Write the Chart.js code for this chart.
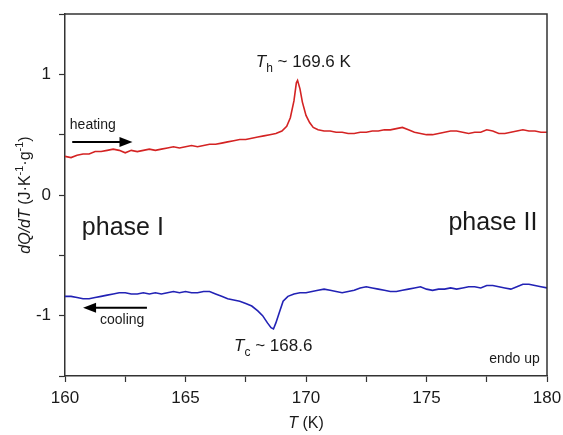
<!DOCTYPE html>
<html>
<head>
<meta charset="utf-8">
<script src="https://cdn.jsdelivr.net/npm/chart.js@4.4.1/dist/chart.umd.min.js"></script>
<style>
  html, body { margin: 0; padding: 0; background: #fff; }
  #wrap { width: 563px; height: 435px; }
</style>
</head>
<body>
<div id="wrap"><canvas id="dscChart" width="563" height="435"></canvas></div>
<script>
// --- Data ---
// heating run (red), T in K, dQ/dT in J K^-1 g^-1
const heatT = [160.0, 160.25, 160.5, 160.75, 161.0, 161.25, 161.5, 161.75, 162.0, 162.25, 162.5, 162.75,
  163.0, 163.25, 163.5, 163.75, 164.0, 164.25, 164.5, 164.75, 165.0, 165.25, 165.5, 165.75, 166.0, 166.25,
  166.5, 166.75, 167.0, 167.25, 167.5, 167.75, 168.0, 168.25, 168.5, 168.75, 169.0, 169.2, 169.35, 169.5,
  169.6, 169.65, 169.75, 169.85, 170.0, 170.15, 170.3, 170.5, 170.75, 171.0, 171.25, 171.5, 171.75, 172.0,
  172.25, 172.5, 172.75, 173.0, 173.25, 173.5, 173.75, 174.0, 174.25, 174.5, 174.75, 175.0, 175.25, 175.5,
  175.75, 176.0, 176.25, 176.5, 176.75, 177.0, 177.25, 177.5, 177.75, 178.0, 178.25, 178.5, 178.75, 179.0,
  179.25, 179.5, 179.75, 180.0];
const heatQ = [0.32, 0.31, 0.33, 0.34, 0.34, 0.36, 0.36, 0.37, 0.38, 0.37, 0.35, 0.37,
  0.36, 0.37, 0.38, 0.37, 0.38, 0.39, 0.40, 0.39, 0.40, 0.41, 0.40, 0.41, 0.42, 0.42,
  0.43, 0.44, 0.45, 0.46, 0.46, 0.47, 0.48, 0.49, 0.50, 0.51, 0.53, 0.57, 0.64, 0.78,
  0.93, 0.95, 0.88, 0.77, 0.66, 0.60, 0.56, 0.54, 0.53, 0.53, 0.52, 0.52, 0.51, 0.51,
  0.52, 0.52, 0.53, 0.53, 0.54, 0.54, 0.55, 0.56, 0.54, 0.52, 0.51, 0.50, 0.50, 0.51,
  0.52, 0.53, 0.53, 0.52, 0.51, 0.52, 0.52, 0.54, 0.53, 0.51, 0.51, 0.52, 0.53, 0.54,
  0.53, 0.53, 0.52, 0.52];

// cooling run (blue)
const coolT = [160.0, 160.25, 160.5, 160.75, 161.0, 161.25, 161.5, 161.75, 162.0, 162.25, 162.5, 162.75,
  163.0, 163.25, 163.5, 163.75, 164.0, 164.25, 164.5, 164.75, 165.0, 165.25, 165.5, 165.75, 166.0, 166.25,
  166.5, 166.75, 167.0, 167.25, 167.5, 167.75, 168.0, 168.2, 168.4, 168.55, 168.65, 168.75, 168.9, 169.05,
  169.25, 169.5, 169.75, 170.0, 170.25, 170.5, 170.75, 171.0, 171.25, 171.5, 171.75, 172.0, 172.25, 172.5,
  172.75, 173.0, 173.25, 173.5, 173.75, 174.0, 174.25, 174.5, 174.75, 175.0, 175.25, 175.5, 175.75, 176.0,
  176.25, 176.5, 176.75, 177.0, 177.25, 177.5, 177.75, 178.0, 178.25, 178.5, 178.75, 179.0, 179.25, 179.5,
  179.75, 180.0];
const coolQ = [-0.84, -0.84, -0.85, -0.86, -0.86, -0.85, -0.84, -0.83, -0.82, -0.81, -0.81, -0.82,
  -0.82, -0.81, -0.82, -0.81, -0.82, -0.81, -0.80, -0.81, -0.80, -0.81, -0.81, -0.80, -0.80, -0.82,
  -0.84, -0.86, -0.87, -0.88, -0.90, -0.92, -0.96, -1.00, -1.06, -1.10, -1.11, -1.06, -0.97, -0.88,
  -0.84, -0.82, -0.81, -0.81, -0.80, -0.79, -0.78, -0.79, -0.80, -0.81, -0.80, -0.79, -0.77, -0.76,
  -0.77, -0.78, -0.79, -0.80, -0.80, -0.79, -0.78, -0.77, -0.76, -0.78, -0.79, -0.78, -0.78, -0.77,
  -0.78, -0.77, -0.76, -0.76, -0.77, -0.75, -0.75, -0.76, -0.77, -0.78, -0.76, -0.74, -0.74, -0.75,
  -0.76, -0.77];

// axis ranges / ticks
const xRange = [160, 180];
const yRange = [-1.5, 1.5];
const xMajorTicks = [160, 165, 170, 175, 180];
const yMajorTicks = [-1, 0, 1];

const FONT = '"Liberation Sans", Arial, sans-serif';
const INK = '#1a1a1a';

// draw a string made of styled pieces (italic / sub / sup)
function drawRuns(ctx, x, y, runs, align) {
    let total = 0;
    runs.forEach(r => {
        ctx.font = (r.italic ? 'italic ' : '') + r.size + 'px ' + FONT;
        r.w = ctx.measureText(r.t).width;
        total += r.w;
    });
    let cx = align === 'center' ? x - total / 2 : (align === 'right' ? x - total : x);
    ctx.textBaseline = 'alphabetic';
    ctx.textAlign = 'left';
    runs.forEach(r => {
        ctx.font = (r.italic ? 'italic ' : '') + r.size + 'px ' + FONT;
        ctx.fillText(r.t, cx, y + (r.dy || 0));
        cx += r.w;
    });
}

function arrow(ctx, x1, y1, x2, y2) {
    const dir = Math.sign(x2 - x1);
    ctx.save();
    ctx.strokeStyle = '#000';
    ctx.fillStyle = '#000';
    ctx.lineWidth = 2;
    ctx.beginPath();
    ctx.moveTo(x1, y1);
    ctx.lineTo(x2 - dir * 10, y2);
    ctx.stroke();
    ctx.beginPath();
    ctx.moveTo(x2, y2);
    ctx.lineTo(x2 - dir * 13, y2 - 5);
    ctx.lineTo(x2 - dir * 13, y2 + 5);
    ctx.closePath();
    ctx.fill();
    ctx.restore();
}

const decorations = {
    id: 'decorations',
    afterDraw(chart) {
        const ctx = chart.ctx;
        const xs = chart.scales.x, ys = chart.scales.y;
        const a = chart.chartArea;
        const px = v => xs.getPixelForValue(v);
        const py = v => ys.getPixelForValue(v);
        ctx.save();

        // top and right frame lines
        ctx.strokeStyle = '#333';
        ctx.lineWidth = 1.5;
        ctx.beginPath();
        ctx.moveTo(a.left, a.top);
        ctx.lineTo(a.right, a.top);
        ctx.lineTo(a.right, a.bottom);
        ctx.stroke();

        ctx.fillStyle = INK;

        // x title
        drawRuns(ctx, (a.left + a.right) / 2, 428, [
            { t: 'T', italic: true, size: 16 },
            { t: ' (K)', size: 16 }
        ], 'center');

        // y title (rotated)
        ctx.save();
        ctx.translate(30, (a.top + a.bottom) / 2);
        ctx.rotate(-Math.PI / 2);
        drawRuns(ctx, 0, 0, [
            { t: 'dQ/dT', italic: true, size: 16 },
            { t: ' (J·K', size: 16 },
            { t: '-1', size: 11, dy: -7 },
            { t: '·g', size: 16 },
            { t: '-1', size: 11, dy: -7 },
            { t: ')', size: 16 }
        ], 'center');
        ctx.restore();

        // peak labels
        drawRuns(ctx, px(169.6) + 7, py(1.06), [
            { t: 'T', italic: true, size: 17 },
            { t: 'h', size: 12, dy: 5 },
            { t: ' ~ 169.6 K', size: 17 }
        ], 'center');
        drawRuns(ctx, px(168.6) + 1, py(-1.29), [
            { t: 'T', italic: true, size: 17 },
            { t: 'c', size: 12, dy: 5 },
            { t: ' ~ 168.6', size: 17 }
        ], 'center');

        // run labels and arrows
        drawRuns(ctx, px(160.2), py(0.545), [{ t: 'heating', size: 14 }], 'left');
        arrow(ctx, px(160.3), py(0.44), px(162.8), py(0.44));
        drawRuns(ctx, px(161.45), py(-1.07), [{ t: 'cooling', size: 14 }], 'left');
        arrow(ctx, px(163.4), py(-0.935), px(160.75), py(-0.935));

        // phase labels
        drawRuns(ctx, px(160.7), py(-0.33), [{ t: 'phase I', size: 25 }], 'left');
        drawRuns(ctx, px(179.6), py(-0.29), [{ t: 'phase II', size: 25 }], 'right');

        drawRuns(ctx, px(179.7), py(-1.39), [{ t: 'endo up', size: 14 }], 'right');

        ctx.restore();
    }
};

const heatPoints = heatT.map((t, i) => ({ x: t, y: heatQ[i] }));
const coolPoints = coolT.map((t, i) => ({ x: t, y: coolQ[i] }));

new Chart(document.getElementById('dscChart'), {
    type: 'line',
    data: {
        datasets: [{
            label: 'heating',
            data: heatPoints,
            borderColor: '#d42323',
            borderWidth: 1.6,
            pointRadius: 0,
            tension: 0
        }, {
            label: 'cooling',
            data: coolPoints,
            borderColor: '#2222b5',
            borderWidth: 1.6,
            pointRadius: 0,
            tension: 0
        }]
    },
    options: {
        responsive: false,
        animation: false,
        devicePixelRatio: 1,
        layout: { padding: { top: 14, right: 16, left: 0, bottom: 0 } },
        plugins: {
            legend: { display: false },
            tooltip: { enabled: false }
        },
        scales: {
            x: {
                type: 'linear',
                min: xRange[0],
                max: xRange[1],
                // fixed axis band; the outer labels may overhang the padding
                afterFit: s => { s.height = 59; s.paddingLeft = 0; s.paddingRight = 0; },
                border: { color: '#333', width: 1.5 },
                grid: { drawOnChartArea: false, tickLength: 6, tickColor: '#333', tickWidth: 1.2 },
                ticks: {
                    stepSize: 2.5,
                    autoSkip: false,
                    maxRotation: 0,
                    padding: 6,
                    color: INK,
                    font: { family: FONT, size: 17 },
                    callback: v => xMajorTicks.includes(v) ? String(v) : ''
                }
            },
            y: {
                min: yRange[0],
                max: yRange[1],
                afterFit: s => { s.width = 65; s.paddingTop = 0; s.paddingBottom = 0; },
                border: { color: '#333', width: 1.5 },
                grid: { drawOnChartArea: false, tickLength: 6, tickColor: '#333', tickWidth: 1.2 },
                ticks: {
                    stepSize: 0.5,
                    autoSkip: false,
                    padding: 8,
                    color: INK,
                    font: { family: FONT, size: 17 },
                    callback: v => yMajorTicks.includes(v) ? String(v) : ''
                }
            }
        }
    },
    plugins: [decorations]
});
</script>
</body>
</html>
